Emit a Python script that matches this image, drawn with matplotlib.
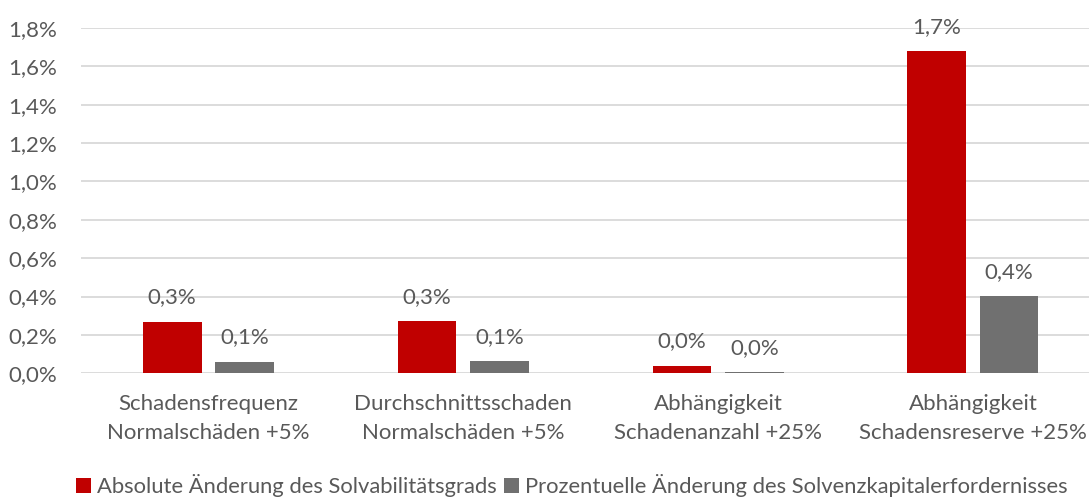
import matplotlib.pyplot as plt
import numpy as np

# Werte (in %)
categories = ['Schadensfrequenz\nNormalschäden +5%',
              'Durchschnittsschaden\nNormalschäden +5%',
              'Abhängigkeit\nSchadenanzahl +25%',
              'Abhängigkeit\nSchadensreserve +25%']
abs_solv = [0.268, 0.273, 0.040, 1.678]
pct_scr = [0.061, 0.064, 0.007, 0.402]
series_names = ['Absolute Änderung des Solvabilitätsgrads',
                'Prozentuelle Änderung des Solvenzkapitalerfordernisses']
yticks = [0.0, 0.2, 0.4, 0.6, 0.8, 1.0, 1.2, 1.4, 1.6, 1.8]

red = '#C00000'
grey = '#707070'
txt = '#595959'
fs = 16

plt.rcParams['font.family'] = ['Lato', 'DejaVu Sans']

fig = plt.figure(figsize=(10.89, 4.98), dpi=100)
ax = fig.add_axes([0.0744, 0.2504, 0.936, 0.6934])

x = np.arange(len(categories))
w = 0.23
off = 0.142
b1 = ax.bar(x - off, abs_solv, w, color=red, label=series_names[0], zorder=3)
b2 = ax.bar(x + off, pct_scr, w, color=grey, label=series_names[1], zorder=3)

def fmt(v):
    return f'{v:.1f}%'.replace('.', ',')

for bars, vals in [(b1, abs_solv), (b2, pct_scr)]:
    for r, v in zip(bars, vals):
        ax.annotate(fmt(v), (r.get_x() + r.get_width() / 2, r.get_height()),
                    xytext=(0, 17.5), textcoords='offset points',
                    ha='center', va='center', fontsize=fs, color=txt)

ax.set_xlim(-0.5, len(categories) - 0.5)
ax.set_ylim(0, 1.8)
ax.set_yticks(yticks)
ax.set_yticklabels([fmt(t) for t in yticks], fontsize=fs, color=txt)
ax.set_xticks(x)
ax.set_xticklabels(categories, fontsize=fs, color=txt, linespacing=1.55)
ax.tick_params(axis='y', length=0, pad=17)
ax.tick_params(axis='x', length=0, pad=15)
ax.yaxis.grid(True, color='#D9D9D9', linewidth=1.3, zorder=0)
ax.set_axisbelow(True)
for s in ax.spines.values():
    s.set_visible(False)

fig.legend(loc='center', bbox_to_anchor=(0.525, 0.025), ncol=2, frameon=False,
           fontsize=15.8, labelcolor=txt, handlelength=0.7, handleheight=0.7,
           handletextpad=0.25, columnspacing=0.35, borderaxespad=0)

fig.savefig('out.png', dpi=100)
